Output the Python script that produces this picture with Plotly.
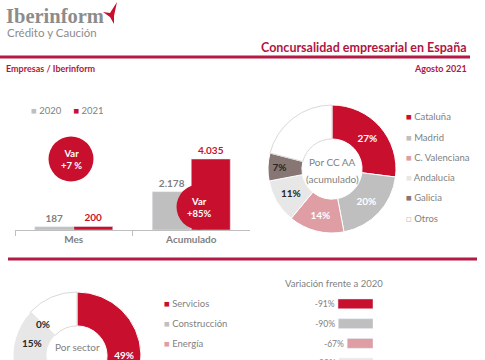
import math
import plotly.graph_objects as go

W, H = 485, 440

# ---------------- data ----------------
periods = ["Mes", "Acumulado"]
val_2020 = [187, 2178]
val_2021 = [200, 4035]
var_labels = ["+7 %", "+85%"]

regions = ["Cataluña", "Madrid", "C. Valenciana", "Andalucia", "Galicia", "Otros"]
region_share = [27, 20, 14, 11, 7, 21]

sectors = ["Servicios", "Construcción", "Energía", "Industria", "Agricultura", "Otros"]
sector_share = [49, 13, 10, 15, 0, 13]

var_sectors = ["Servicios", "Construcción", "Energía", "Industria"]
var_vs_2020 = [-91, -90, -67, -88]

# ---------------- styles ----------------
RED = "#C8102E"
DRED = "#B0173F"
GREY = "#BFBFBF"
PINK = "#DE9EA4"
LGREY = "#E8E7E7"
TAUPE = "#877673"
WHITE = "#FFFFFF"
TXT = "#7F7F7F"
DARK = "#262626"
slice_colors = [RED, GREY, PINK, LGREY, TAUPE, WHITE]
FONT = "Lato"
HOLE = 0.47


def px(x):
    return x / W


def py(y):
    return 1 - y / H


fig = go.Figure()

# ---- bar chart (Mes / Acumulado) ----
fig.add_bar(x=periods, y=val_2020, name="2020", marker_color=GREY,
            texttemplate="%{y:,}", textposition="outside", cliponaxis=False,
            textfont=dict(color=TXT, size=10, weight="bold", family=FONT),
            showlegend=False, xaxis="x", yaxis="y")
fig.add_bar(x=periods, y=val_2021, name="2021", marker_color=RED,
            texttemplate="%{y:,}", textposition="outside", cliponaxis=False,
            textfont=dict(color=RED, size=10, weight="bold", family=FONT),
            showlegend=False, xaxis="x", yaxis="y")

# ---- variation bars ----
fig.add_bar(x=var_vs_2020, y=var_sectors, orientation="h", width=0.5,
            marker_color=slice_colors[:len(var_sectors)],
            text=[f"{v}%" for v in var_vs_2020], textposition="outside", cliponaxis=False,
            textfont=dict(color=TXT, size=9.5, family=FONT),
            showlegend=False, xaxis="x2", yaxis="y2")

# ---- donut CC AA ----
fig.add_trace(go.Pie(
    labels=regions, values=region_share, sort=False, direction="clockwise",
    rotation=0, hole=HOLE,
    marker=dict(colors=slice_colors,
                line=dict(color=[WHITE] * 5 + ["#D9D9D9"], width=1)),
    text=[f"{v}%" if r != "Otros" else "" for r, v in zip(regions, region_share)],
    textinfo="text", textposition="inside", insidetextorientation="horizontal",
    textfont=dict(size=10, weight="bold", family=FONT,
                  color=[WHITE, WHITE, WHITE, DARK, DARK, DARK]),
    domain=dict(x=[px(268), px(396)], y=[py(233), py(105)]),
    showlegend=False))

# ---- donut sectors ----
S_CX, S_CY, S_R = 77, 356, 64
fig.add_trace(go.Pie(
    labels=sectors, values=sector_share, sort=False, direction="clockwise",
    rotation=0, hole=HOLE,
    marker=dict(colors=slice_colors,
                line=dict(color=[WHITE] * 5 + ["#D9D9D9"], width=1)),
    text=[f"{v}%" if s != "Otros" else "" for s, v in zip(sectors, sector_share)],
    textinfo="text", textposition="inside", insidetextorientation="horizontal",
    textfont=dict(size=10, weight="bold", family=FONT,
                  color=[WHITE, WHITE, WHITE, DARK, DARK, DARK]),
    domain=dict(x=[px(S_CX - S_R), px(S_CX + S_R)], y=[py(S_CY + S_R), py(S_CY - S_R)]),
    showlegend=False))

annotations = []


def ann(x, y, text, size=10, color=TXT, anchor="left", bold=False, family=FONT):
    annotations.append(dict(
        x=px(x), y=py(y), xref="paper", yref="paper", text=text, showarrow=False,
        xanchor=anchor, yanchor="middle",
        font=dict(size=size, color=color, family=family,
                  weight="bold" if bold else "normal")))


# header
ann(4, 16, "Iberinform", size=20.5, color="#8C8C8C", bold=True, family="Liberation Serif")
ann(5, 32, "Crédito y Caución", size=11.5, color="#8C8C8C")
ann(469, 47, "Concursalidad empresarial en España", size=12.5, color=DRED, anchor="right", bold=True)
ann(4, 68, "Empresas / Iberinform", size=9, color=DRED, bold=True)
ann(469, 68, "Agosto 2021", size=9, color=DRED, anchor="right", bold=True)

# bar legend
ann(29, 111, f"<span style='color:{GREY}'>■</span> 2020     <span style='color:{RED}'>■</span> 2021",
    size=9.5, color=TXT)

# var circles text
circle_centers = [(71, 159), (199, 207)]
for (cx, cy), lab in zip(circle_centers, var_labels):
    ann(cx, cy, f"Var<br>{lab}", size=9.5, color=WHITE, anchor="center", bold=True)

# donut center texts
ann(332, 162, "Por CC AA", size=10, color=TXT, anchor="center")
ann(332, 179, "(acumulado)", size=10, color=TXT, anchor="center")
ann(77, 347, "Por sector", size=10, color=TXT, anchor="center")
ann(77, 364, "(acumulado)", size=10, color=TXT, anchor="center")

# label of the zero-size sector slice, placed on its boundary in the ring
cum = 0
for s, v in zip(sectors, sector_share):
    if v == 0:
        theta = math.radians(360 * cum / sum(sector_share))
        rmid = S_R * (1 + HOLE) / 2
        ann(S_CX + rmid * math.sin(theta), S_CY - rmid * math.cos(theta), f"{v}%",
            size=10, color=DARK, anchor="center", bold=True)
    cum += v

# donut legends
for i, (r, c) in enumerate(zip(regions, slice_colors)):
    glyph = f"<span style='color:{c}'>■</span>" if c != WHITE else "<span style='color:#BFBFBF'>□</span>"
    ann(404, 117 + 20.2 * i, f"{glyph} {r}", size=9.5, color=TXT)
for i, (s, c) in enumerate(zip(sectors, slice_colors)):
    glyph = f"<span style='color:{c}'>■</span>" if c != WHITE else "<span style='color:#BFBFBF'>□</span>"
    ann(162, 303 + 20 * i, f"{glyph} {s}", size=9.5, color=TXT)

ann(334, 283, "Variación frente a 2020", size=9.5, color=TXT, anchor="center")

# shapes
shapes = [
    dict(type="line", xref="paper", yref="paper", x0=px(0), x1=px(470), y0=py(57), y1=py(57),
         line=dict(color="#B31B45", width=3)),
    dict(type="line", xref="paper", yref="paper", x0=px(8), x1=px(477), y0=py(259), y1=py(259),
         line=dict(color="#B31B45", width=3)),
]
for (cx, cy) in circle_centers:
    r = 22.5
    shapes.append(dict(type="circle", xref="paper", yref="paper", layer="above",
                       x0=px(cx - r), x1=px(cx + r), y0=py(cy + r), y1=py(cy - r),
                       fillcolor=RED, line=dict(color=RED, width=0)))
logo = [(103, 12), (110, 13), (117, 2), (114, 16), (114, 24), (110, 17)]
path = "M " + " L ".join(f"{px(x):.5f},{py(y):.5f}" for x, y in logo) + " Z"
shapes.append(dict(type="path", xref="paper", yref="paper", path=path,
                   fillcolor=RED, line=dict(width=0)))

fig.update_layout(
    width=W, height=H, margin=dict(l=0, r=0, t=0, b=0),
    paper_bgcolor=WHITE, plot_bgcolor="rgba(0,0,0,0)",
    separators=",.", barmode="group", bargap=0.336, bargroupgap=0,
    font=dict(family=FONT, color=TXT),
    xaxis=dict(domain=[px(15), px(250)], type="category", showline=True, linecolor=GREY,
               ticks="outside", tickson="boundaries", ticklen=5, tickcolor=GREY,
               showgrid=False, tickfont=dict(size=10, color=TXT, weight="bold", family=FONT)),
    yaxis=dict(domain=[py(230), py(100)], range=[0, 4035 * 130 / 71], visible=False),
    xaxis2=dict(domain=[px(334.5), px(373)], range=[-100, 0], visible=False, anchor="y2"),
    yaxis2=dict(domain=[py(373), py(294)], autorange="reversed", visible=False,
                anchor="x2", type="category"),
    annotations=annotations, shapes=shapes,
)

fig.write_html("out.html", config=dict(displayModeBar=False),
               post_script="document.body.style.margin='0';document.body.style.overflow='hidden';")
